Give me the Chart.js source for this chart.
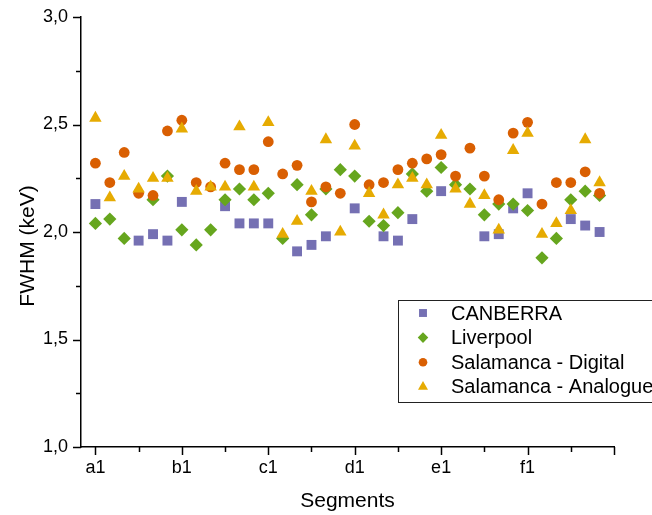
<!DOCTYPE html>
<html>
<head>
<meta charset="utf-8">
<title>FWHM per segment</title>
<script src="https://cdn.jsdelivr.net/npm/chart.js@4/dist/chart.umd.min.js"></script>
<style>
  html, body { margin: 0; padding: 0; background: #ffffff; }
  #wrap { width: 652px; height: 515px; }
</style>
</head>
<body>
<div id="wrap"><canvas id="chart" width="652" height="515"></canvas></div>
<script>
// Detector segments, in acquisition order
const segments = [
  'a1','a2','a3','a4','a5','a6',
  'b1','b2','b3','b4','b5','b6',
  'c1','c2','c3','c4','c5','c6',
  'd1','d2','d3','d4','d5','d6',
  'e1','e2','e3','e4','e5','e6',
  'f1','f2','f3','f4','f5','f6'
];

// FWHM (keV) per segment; null = no measurement
const canberra = [
  2.13, null, null, 1.96, 1.99, 1.96,
  2.14, null, null, 2.12, 2.04, 2.04,
  2.04, null, 1.91, 1.94, 1.98, null,
  2.11, null, 1.98, 1.96, 2.06, null,
  2.19, null, null, 1.98, 1.99, 2.11,
  2.18, null, null, 2.06, 2.03, 2.00
];
const liverpool = [
  2.04, 2.06, 1.97, null, 2.15, 2.26,
  2.01, 1.94, 2.01, 2.15, 2.20, 2.15,
  2.18, 1.97, 2.22, 2.08, 2.20, 2.29,
  2.26, 2.05, 2.03, 2.09, 2.27, 2.19,
  2.30, 2.22, 2.20, 2.08, 2.13, 2.13,
  2.10, 1.88, 1.97, 2.15, 2.19, 2.17
];
const salamancaDigital = [
  2.32, 2.23, 2.37, 2.18, 2.17, 2.47,
  2.52, 2.23, 2.21, 2.32, 2.29, 2.29,
  2.42, 2.27, 2.31, 2.14, 2.21, 2.18,
  2.50, 2.22, 2.23, 2.29, 2.32, 2.34,
  2.36, 2.26, 2.39, 2.26, 2.15, 2.46,
  2.51, 2.13, 2.23, 2.23, 2.28, 2.18
];
const salamancaAnalogue = [
  2.53, 2.16, 2.26, 2.20, 2.25, 2.25,
  2.48, 2.19, 2.21, 2.21, 2.49, 2.21,
  2.51, 1.99, 2.05, 2.19, 2.43, 2.00,
  2.40, 2.18, 2.08, 2.22, 2.25, 2.22,
  2.45, 2.20, 2.13, 2.17, 2.01, 2.38,
  2.46, 1.99, 2.04, 2.10, 2.43, 2.23
];

// Axis tick values
const yTicks = [1.0, 1.25, 1.5, 1.75, 2.0, 2.25, 2.5, 2.75, 3.0];
const xTicks = [1, 4, 7, 10, 13, 16, 19, 22, 25, 28, 31, 34, 37];

const FONT = '"Liberation Sans", Arial, Helvetica, sans-serif';

const toPoints = arr => arr.map((v, i) => ({ x: i + 1, y: v }));

const series = [
  { label: 'CANBERRA',              values: canberra,          color: '#7570B3', style: 'rect',     r: 7.0, order: 4 },
  { label: 'Liverpool',             values: liverpool,         color: '#66A61E', style: 'rectRot',  r: 6.6, order: 3 },
  { label: 'Salamanca - Digital',   values: salamancaDigital,  color: '#D95F02', style: 'circle',   r: 5.4, order: 2 },
  { label: 'Salamanca - Analogue',  values: salamancaAnalogue, color: '#E6AB02', style: 'triangle', r: 7.2, order: 1 }
];

const isMajorX = v => (v - 1) % 6 === 0;
const isMajorY = v => Math.abs(v * 2 - Math.round(v * 2)) < 1e-6;

// Outward tick marks, axis titles and the boxed legend
const decorations = {
  id: 'decorations',
  afterDraw(chart) {
    const { ctx, chartArea: a } = chart;
    const x = chart.scales.x, y = chart.scales.y;
    ctx.save();
    ctx.strokeStyle = '#000';
    ctx.lineWidth = 1.5;
    x.ticks.forEach(t => {
      const px = Math.round(x.getPixelForValue(t.value)) + 0.5;
      ctx.beginPath();
      ctx.moveTo(px, a.bottom);
      ctx.lineTo(px, a.bottom + (isMajorX(t.value) ? 8 : 5));
      ctx.stroke();
    });
    y.ticks.forEach(t => {
      const py = Math.round(y.getPixelForValue(t.value)) + 0.5;
      ctx.beginPath();
      ctx.moveTo(a.left, py);
      ctx.lineTo(a.left - (isMajorY(t.value) ? 8 : 5), py);
      ctx.stroke();
    });

    // Axis titles
    ctx.fillStyle = '#000';
    ctx.font = '21px ' + FONT;
    ctx.textAlign = 'center';
    ctx.textBaseline = 'alphabetic';
    ctx.fillText('Segments', (a.left + a.right) / 2, 507);
    ctx.save();
    ctx.translate(34, 246);
    ctx.rotate(-Math.PI / 2);
    ctx.fillText('FWHM (keV)', 0, 0);
    ctx.restore();

    // Legend
    const box = { left: 398.5, top: 300.5, width: 270, height: 102 };
    ctx.fillStyle = '#fff';
    ctx.fillRect(box.left, box.top, box.width, box.height);
    ctx.strokeStyle = '#222';
    ctx.lineWidth = 1;
    ctx.strokeRect(box.left, box.top, box.width, box.height);
    ctx.font = '20px ' + FONT;
    ctx.textAlign = 'left';
    ctx.textBaseline = 'middle';
    series.forEach((s, i) => {
      const cy = 313 + i * 24.6;
      ctx.fillStyle = s.color;
      Chart.helpers.drawPoint(ctx, { pointStyle: s.style, radius: s.r * 0.8, rotation: 0, borderWidth: 0 }, 423, cy);
      ctx.fillStyle = '#000';
      ctx.fillText(s.label, 451, cy + 1);
    });
    ctx.restore();
  }
};

new Chart(document.getElementById('chart'), {
  type: 'scatter',
  data: {
    datasets: series.map(s => ({
      label: s.label,
      data: toPoints(s.values),
      backgroundColor: s.color,
      borderColor: s.color,
      pointStyle: s.style,
      pointRadius: s.r,
      pointHoverRadius: s.r,
      pointBorderWidth: 0,
      order: s.order,
      clip: false
    }))
  },
  options: {
    responsive: false,
    animation: false,
    devicePixelRatio: 1,
    events: [],
    layout: { padding: { left: 0, top: 17, right: 38, bottom: 0 } },
    plugins: {
      legend: { display: false },
      tooltip: { enabled: false }
    },
    scales: {
      x: {
        type: 'linear',
        min: 0,
        max: 37,
        afterBuildTicks: scale => { scale.ticks = xTicks.map(v => ({ value: v })); },
        afterFit: scale => { scale.height = 68; },
        grid: { display: true, drawOnChartArea: false, drawTicks: true, tickLength: 8, tickColor: 'rgba(0,0,0,0)' },
        border: { display: true, color: '#000', width: 1.5 },
        ticks: {
          autoSkip: false,
          maxRotation: 0,
          padding: 2,
          color: '#000',
          font: { family: FONT, size: 18 },
          callback: v => (isMajorX(v) && segments[v - 1]) ? segments[v - 1] : ''
        }
      },
      y: {
        type: 'linear',
        min: 1,
        max: 3,
        afterBuildTicks: scale => { scale.ticks = yTicks.map(v => ({ value: v })); },
        afterFit: scale => { scale.width = 81; },
        grid: { display: true, drawOnChartArea: false, drawTicks: true, tickLength: 8, tickColor: 'rgba(0,0,0,0)' },
        border: { display: true, color: '#000', width: 1.5 },
        ticks: {
          autoSkip: false,
          padding: 5,
          color: '#000',
          font: { family: FONT, size: 18 },
          callback: v => isMajorY(v) ? v.toFixed(1).replace('.', ',') : ''
        }
      }
    }
  },
  plugins: [decorations]
});
</script>
</body>
</html>
